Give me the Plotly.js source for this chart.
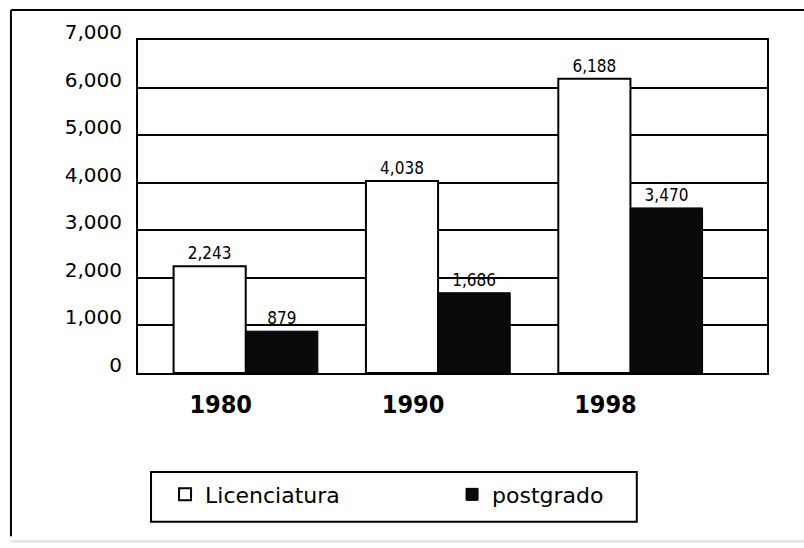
<!DOCTYPE html>
<html>
<head>
<meta charset="utf-8">
<script src="https://cdn.plot.ly/plotly-3.0.1.min.js"></script>
<style>html,body{margin:0;padding:0;background:#fff;} #chart{width:804px;height:548px;}</style>
</head>
<body>
<div id="chart"></div>
<script>
var years = ['1980', '1990', '1998'];
var licenciatura = [2243, 4038, 6188];
var postgrado = [879, 1686, 3470];
var yTicks = [0, 1000, 2000, 3000, 4000, 5000, 6000, 7000];
var yTickText = ['0', '1,000', '2,000', '3,000', '4,000', '5,000', '6,000', '7,000'];

var labelFont = {family: 'DejaVu Sans Condensed, DejaVu Sans, sans-serif', size: 17, color: '#000'};

var traces = [
  {
    type: 'bar', name: 'Licenciatura', x: years, y: licenciatura,
    marker: {color: '#ffffff', line: {color: '#000000', width: 2}},
    text: licenciatura.map(function(v){return v.toLocaleString('en-US');}),
    textposition: 'outside', cliponaxis: false, textfont: labelFont
  },
  {
    type: 'bar', name: 'postgrado', x: years, y: postgrado,
    marker: {color: '#0a0a0a', line: {color: '#000000', width: 1}},
    text: postgrado.map(function(v){return v.toLocaleString('en-US');}),
    textposition: 'outside', cliponaxis: false, textfont: labelFont
  }
];

var layout = {
  width: 804, height: 548,
  margin: {l: 138, r: 37, t: 40, b: 175},
  paper_bgcolor: '#ffffff', plot_bgcolor: '#ffffff',
  barmode: 'group', bargap: 0.25, bargroupgap: 0,
  showlegend: true,
  legend: {
    orientation: 'h', x: 0.043, y: -0.302, xanchor: 'left', yanchor: 'top',
    borderwidth: 0, bgcolor: 'rgba(0,0,0,0)',
    entrywidth: 242, entrywidthmode: 'pixels',
    font: {family: 'DejaVu Sans, sans-serif', size: 22, color: '#000'},
    traceorder: 'normal'
  },
  xaxis: {
    type: 'category', range: [-0.56, 2.71],
    showgrid: false, zeroline: false,
    showline: true, linecolor: '#000', linewidth: 2, mirror: true,
    ticks: '', ticklabelshift: -25, ticklabelstandoff: 8,
    tickfont: {family: 'DejaVu Sans Condensed, DejaVu Sans, sans-serif', size: 25, color: '#000', weight: 'bold'}
  },
  yaxis: {
    range: [0, 7000], tickvals: yTicks, ticktext: yTickText,
    showgrid: true, gridcolor: '#000', gridwidth: 2,
    zeroline: false, showline: true, linecolor: '#000', linewidth: 2, mirror: true,
    ticks: '', ticklabelstandoff: 10, ticklabelshift: -8,
    tickfont: {family: 'DejaVu Sans, sans-serif', size: 20, color: '#000'}
  },
  shapes: [
    {type: 'rect', xref: 'paper', yref: 'paper', x0: 0.0207, x1: 0.793, y0: -0.297, y1: -0.447, line: {color: '#000', width: 2}, fillcolor: 'rgba(0,0,0,0)'},
    {type: 'line', xref: 'paper', yref: 'paper', x0: -0.202, x1: 1.07, y0: 1.09, y1: 1.09, line: {color: '#000', width: 2}},
    {type: 'line', xref: 'paper', yref: 'paper', x0: -0.202, x1: -0.202, y0: 1.09, y1: -0.49, line: {color: '#000', width: 2}},
    {type: 'line', xref: 'paper', yref: 'paper', x0: -0.202, x1: 1.07, y0: -0.505, y1: -0.505, line: {color: '#e6e6e6', width: 3}}
  ]
};

Plotly.newPlot('chart', traces, layout, {displayModeBar: false, staticPlot: true});
</script>
</body>
</html>
